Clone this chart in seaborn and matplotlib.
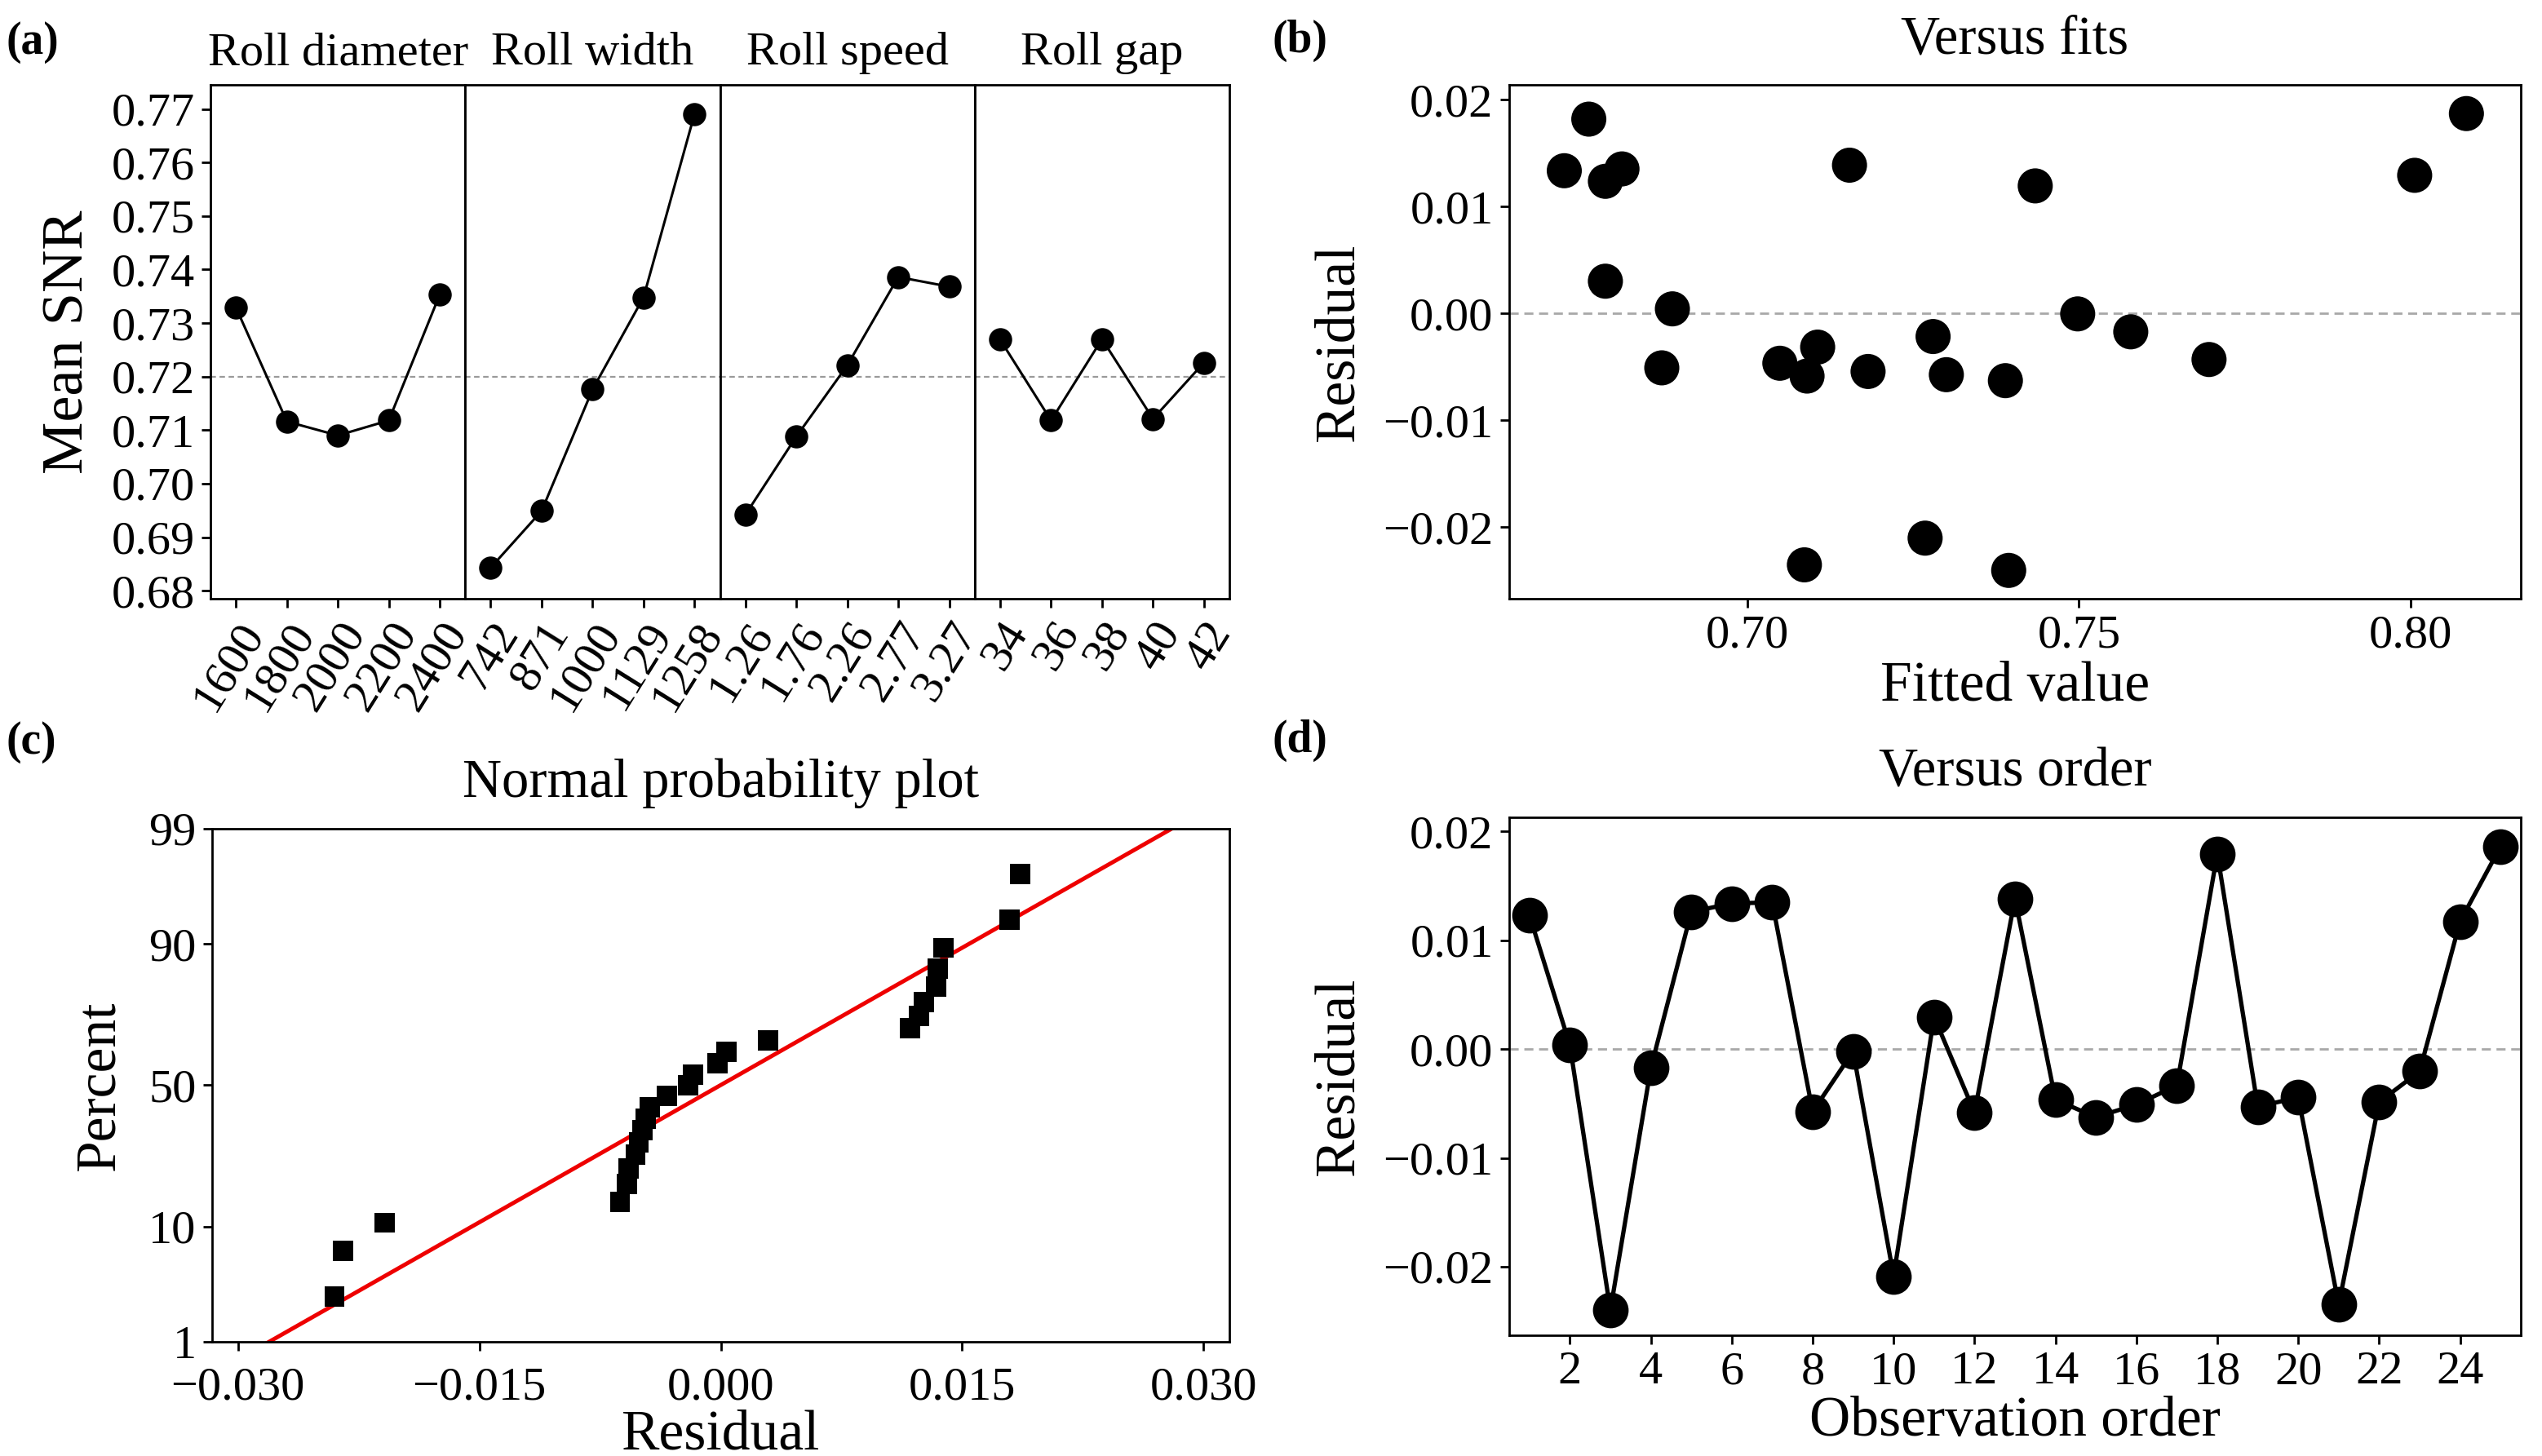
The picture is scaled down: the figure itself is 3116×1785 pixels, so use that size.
import numpy as np
import pandas as pd
import matplotlib
matplotlib.use("Agg")
import matplotlib.pyplot as plt
import seaborn as sns
from matplotlib.ticker import FuncFormatter
from statistics import NormalDist

# --- DATA ---
factor_names = ["Roll diameter", "Roll width", "Roll speed", "Roll gap"]
diameter_levels = ["1600", "1800", "2000", "2200", "2400"]
width_levels = ["742", "871", "1000", "1129", "1258"]
speed_levels = ["1.26", "1.76", "2.26", "2.77", "3.27"]
gap_levels = ["34", "36", "38", "40", "42"]

diameter_snr = [0.7329, 0.7116, 0.7090, 0.7118, 0.7353]
width_snr = [0.6843, 0.6949, 0.7176, 0.7348, 0.7690]
speed_snr = [0.6942, 0.7088, 0.7221, 0.7386, 0.7368]
gap_snr = [0.7269, 0.7118, 0.7270, 0.7121, 0.7226]
overall_mean_snr = 0.72

# (b) residuals versus fitted values
fitted_values = [0.6724, 0.6761, 0.6786, 0.6811, 0.6786, 0.6887, 0.6871, 0.7049,
                 0.7090, 0.7106, 0.7182, 0.7154, 0.7280, 0.7300, 0.7389, 0.7434,
                 0.7498, 0.7578, 0.7696, 0.8006, 0.8084, 0.7086, 0.7268, 0.7394]
fit_residuals = [0.01336, 0.01819, 0.01237, 0.01353, 0.00302, 0.00043, -0.00509, -0.00466,
                 -0.00586, -0.00315, -0.00543, 0.01388, -0.00216, -0.00573, -0.00629, 0.01194,
                 -0.00004, -0.00172, -0.00431, 0.01293, 0.01871, -0.02353, -0.02103, -0.02405]

# (d) residuals in observation order
order_residuals = [0.01230, 0.00035, -0.02400, -0.00174, 0.01261, 0.01339, 0.01348, -0.00574,
                   -0.00022, -0.02087, 0.00296, -0.00583, 0.01383, -0.00465, -0.00626, -0.00509,
                   -0.00335, 0.01796, -0.00530, -0.00443, -0.02348, -0.00487, -0.00204, 0.01174,
                   0.01861]

# --- STYLE ---
sns.set_theme(style="ticks")
plt.rcParams['font.family'] = ['Liberation Serif', 'DejaVu Serif']
plt.rcParams['axes.linewidth'] = 1.0
plt.rcParams['axes.edgecolor'] = 'black'
plt.rcParams['xtick.color'] = 'black'
plt.rcParams['ytick.color'] = 'black'
plt.rcParams['text.color'] = 'black'
plt.rcParams['axes.labelcolor'] = 'black'

TICK_FS = 21
LABEL_FS = 25
TITLE_FS = 24

W, H = 3116, 1785
fig = plt.figure(figsize=(W / 200, H / 200), dpi=200)


def frac_box(left, top, right, bottom):
    # pixel box -> figure fraction rect
    return [left / W, 1 - bottom / H, (right - left) / W, (bottom - top) / H]


def fmt(decimals):
    # fixed decimals with a real minus sign
    return FuncFormatter(lambda v, pos: f"{v:.{decimals}f}".replace("-", "\u2212"))


def style_ax(ax):
    for s in ax.spines.values():
        s.set_visible(True)
        s.set_color('black')
        s.set_linewidth(1.0)
    ax.tick_params(direction='out', length=4, width=1, labelsize=TICK_FS, pad=3)


# --- (a) MAIN EFFECTS FOR SNR ---
levels_all = [diameter_levels, width_levels, speed_levels, gap_levels]
snr_all = [diameter_snr, width_snr, speed_snr, gap_snr]
a_left, a_right = 258, 1507
facet_w = (a_right - a_left) / 4
for i, (name, lev, snr) in enumerate(zip(factor_names, levels_all, snr_all)):
    ax = fig.add_axes(frac_box(a_left + i * facet_w, 104, a_left + (i + 1) * facet_w, 734))
    style_ax(ax)
    ax.axhline(overall_mean_snr, color='#9a9a9a', lw=0.8, ls=(0, (3, 2)), zorder=1)
    sns.lineplot(x=np.arange(len(lev)), y=snr, ax=ax, color='black', lw=1.1,
                 marker='o', markersize=9.5, markeredgecolor='black', zorder=3)
    ax.set_xlim(-0.5, len(lev) - 0.5)
    ax.set_ylim(0.6785, 0.7745)
    ax.set_xticks(np.arange(len(lev)))
    ax.set_xticklabels(lev, rotation=58, ha='right', rotation_mode='anchor')
    ax.set_title(name, fontsize=21, pad=9)
    ax.set_xlabel("")
    if i == 0:
        ax.set_yticks(np.arange(0.68, 0.7701, 0.01))
        ax.yaxis.set_major_formatter(fmt(2))
        ax.set_ylabel("Mean SNR", fontsize=LABEL_FS + 1, labelpad=7)
    else:
        ax.set_yticks([])
        ax.set_ylabel("")

# --- (b) VERSUS FITS ---
axb = fig.add_axes(frac_box(1850, 104, 3090, 734))
style_ax(axb)
axb.axhline(0, color='#a8a8a8', lw=1.0, ls=(0, (4, 2.5)), zorder=1)
sns.scatterplot(x=fitted_values, y=fit_residuals, ax=axb, color='black', s=240,
                edgecolor='none', zorder=3)
axb.set_xlim(0.6641, 0.8166)
axb.set_ylim(-0.0267, 0.0214)
axb.set_xticks([0.70, 0.75, 0.80])
axb.set_yticks([-0.02, -0.01, 0.0, 0.01, 0.02])
axb.xaxis.set_major_formatter(fmt(2))
axb.yaxis.set_major_formatter(fmt(2))
axb.set_title("Versus fits", fontsize=TITLE_FS, pad=14)
axb.set_xlabel("Fitted value", fontsize=LABEL_FS, labelpad=2)
axb.set_ylabel("Residual", fontsize=LABEL_FS, labelpad=8)

# --- (c) NORMAL PROBABILITY PLOT ---
axc = fig.add_axes(frac_box(260, 1016, 1507, 1645))
style_ax(axc)
nd = NormalDist()
res_sorted = np.sort(order_residuals)
n = len(res_sorted)
z_scores = [nd.inv_cdf((k - 0.3) / (n + 0.4)) for k in range(1, n + 1)]
mu, sd = float(np.mean(order_residuals)), float(np.std(order_residuals, ddof=1))
z_line = np.array([nd.inv_cdf(0.005), nd.inv_cdf(0.995)])
sns.lineplot(x=mu + sd * z_line, y=z_line, ax=axc, color='#ee0000', lw=1.8, sort=False, zorder=2)
sns.scatterplot(x=res_sorted, y=z_scores, ax=axc, marker='s', s=80, color='black',
                edgecolor='none', zorder=3)
pct_ticks = [1, 10, 50, 90, 99]
axc.set_yticks([nd.inv_cdf(p / 100) for p in pct_ticks])
axc.set_yticklabels([str(p) for p in pct_ticks])
axc.set_ylim(nd.inv_cdf(0.01), nd.inv_cdf(0.99))
axc.set_xlim(-0.0316, 0.0316)
axc.set_xticks([-0.030, -0.015, 0.0, 0.015, 0.030])
axc.xaxis.set_major_formatter(fmt(3))
axc.tick_params(axis='x', pad=7)
axc.set_title("Normal probability plot", fontsize=TITLE_FS, pad=14)
axc.set_xlabel("Residual", fontsize=LABEL_FS, labelpad=0)
axc.set_ylabel("Percent", fontsize=LABEL_FS, labelpad=10)

# --- (d) VERSUS ORDER ---
axd = fig.add_axes(frac_box(1850, 1002, 3090, 1637))
style_ax(axd)
obs = np.arange(1, len(order_residuals) + 1)
axd.axhline(0, color='#a8a8a8', lw=1.0, ls=(0, (4, 2.5)), zorder=1)
sns.lineplot(x=obs, y=order_residuals, ax=axd, color='black', lw=1.9, marker='o',
             markersize=15, markeredgecolor='black', zorder=3)
axd.set_xlim(0.5, 25.5)
axd.set_ylim(-0.0263, 0.0213)
axd.set_xticks(np.arange(2, 25, 2))
axd.set_yticks([-0.02, -0.01, 0.0, 0.01, 0.02])
axd.yaxis.set_major_formatter(fmt(2))
axd.set_title("Versus order", fontsize=TITLE_FS, pad=14)
axd.set_xlabel("Observation order", fontsize=LABEL_FS, labelpad=1)
axd.set_ylabel("Residual", fontsize=LABEL_FS, labelpad=8)

# --- PANEL LETTERS ---
for lbl, px, py in [("(a)", 8, 52), ("(b)", 1560, 50), ("(c)", 8, 910), ("(d)", 1560, 908)]:
    fig.text(px / W, 1 - py / H, lbl, fontsize=20, fontweight='bold', va='center', ha='left')

fig.savefig("out.png", dpi=200, facecolor='white')
